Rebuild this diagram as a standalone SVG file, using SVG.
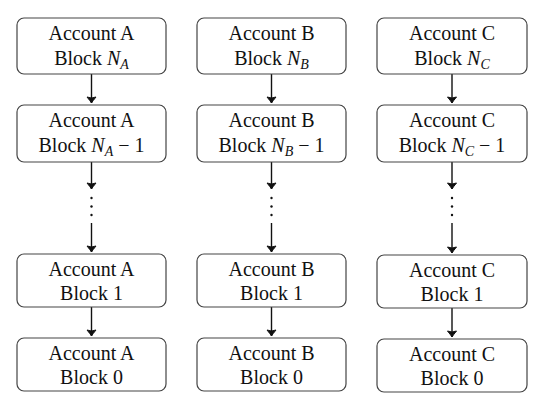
<svg xmlns="http://www.w3.org/2000/svg" width="538" height="405" viewBox="0 0 538 405">
<defs>
<style>
.box{fill:#fff;stroke:#444;stroke-width:1.2}
.c{stroke:#111;stroke-width:1.4;fill:none}
.d{fill:#111}
</style>
<marker id="ah" markerUnits="userSpaceOnUse" markerWidth="12" markerHeight="12" viewBox="-7 -6 8 12" refX="0" refY="0" orient="auto">
<path d="M-6,-4.5 Q-2,-1.2 0,0 Q-2,1.2 -6,4.5 Q-4,0 -6,-4.5 Z" fill="#111" stroke="#111" stroke-width="1" stroke-linejoin="round"/>
</marker>
</defs>
<rect width="538" height="405" fill="#fff"/>
<g id="connectors">
<path class="c" d="M91.5,74 V103" marker-end="url(#ah)"/>
<path class="c" d="M91.5,162 V189" marker-end="url(#ah)"/>
<path class="c" d="M91.5,223 V252" marker-end="url(#ah)"/>
<path class="c" d="M91.5,307 V336" marker-end="url(#ah)"/>
<path class="c" d="M271.5,74 V103" marker-end="url(#ah)"/>
<path class="c" d="M271.5,162 V189" marker-end="url(#ah)"/>
<path class="c" d="M271.5,223 V252" marker-end="url(#ah)"/>
<path class="c" d="M271.5,307 V336" marker-end="url(#ah)"/>
<path class="c" d="M452,74 V103" marker-end="url(#ah)"/>
<path class="c" d="M452,162 V189" marker-end="url(#ah)"/>
<path class="c" d="M452,223 V253" marker-end="url(#ah)"/>
<path class="c" d="M452,308 V337" marker-end="url(#ah)"/>
<circle class="d" cx="91.5" cy="198" r="1.2"/><circle class="d" cx="91.5" cy="206.5" r="1.2"/><circle class="d" cx="91.5" cy="215" r="1.2"/>
<circle class="d" cx="271.5" cy="198" r="1.2"/><circle class="d" cx="271.5" cy="206.5" r="1.2"/><circle class="d" cx="271.5" cy="215" r="1.2"/>
<circle class="d" cx="452" cy="198" r="1.2"/><circle class="d" cx="452" cy="206.5" r="1.2"/><circle class="d" cx="452" cy="215" r="1.2"/>
</g>
<g font-family="Liberation Serif, Times New Roman, Tinos, DejaVu Serif, Noto Serif, serif" font-size="20" fill="#111" text-anchor="middle">
<g id="a1"><rect class="box" x="17" y="18" width="149" height="56" rx="7"/><text x="91.5" y="40">Account A</text><text x="91.5" y="64.5">Block <tspan font-style="italic">N</tspan><tspan font-style="italic" font-size="14" dy="4">A</tspan></text></g>
<g id="a2"><rect class="box" x="17" y="105" width="149" height="57" rx="7"/><text x="91.5" y="127">Account A</text><text x="91.5" y="152">Block <tspan font-style="italic">N</tspan><tspan font-style="italic" font-size="14" dy="4">A</tspan><tspan dy="-4"> − 1</tspan></text></g>
<g id="a3"><rect class="box" x="17" y="254" width="149" height="53" rx="7"/><text x="91.5" y="275.5">Account A</text><text x="91.5" y="299.5">Block 1</text></g>
<g id="a4"><rect class="box" x="17" y="338" width="149" height="53" rx="7"/><text x="91.5" y="360">Account A</text><text x="91.5" y="384">Block 0</text></g>
<g id="b1"><rect class="box" x="197" y="18" width="149" height="56" rx="7"/><text x="271.5" y="40">Account B</text><text x="271.5" y="64.5">Block <tspan font-style="italic">N</tspan><tspan font-style="italic" font-size="14" dy="4">B</tspan></text></g>
<g id="b2"><rect class="box" x="197" y="105" width="149" height="57" rx="7"/><text x="271.5" y="127">Account B</text><text x="271.5" y="152">Block <tspan font-style="italic">N</tspan><tspan font-style="italic" font-size="14" dy="4">B</tspan><tspan dy="-4"> − 1</tspan></text></g>
<g id="b3"><rect class="box" x="197" y="254" width="149" height="53" rx="7"/><text x="271.5" y="275.5">Account B</text><text x="271.5" y="299.5">Block 1</text></g>
<g id="b4"><rect class="box" x="197" y="338" width="149" height="53" rx="7"/><text x="271.5" y="360">Account B</text><text x="271.5" y="384">Block 0</text></g>
<g id="c1"><rect class="box" x="377" y="18" width="150" height="56" rx="7"/><text x="452" y="40">Account C</text><text x="452" y="64.5">Block <tspan font-style="italic">N</tspan><tspan font-style="italic" font-size="14" dy="4">C</tspan></text></g>
<g id="c2"><rect class="box" x="377" y="105" width="150" height="57" rx="7"/><text x="452" y="127">Account C</text><text x="452" y="152">Block <tspan font-style="italic">N</tspan><tspan font-style="italic" font-size="14" dy="4">C</tspan><tspan dy="-4"> − 1</tspan></text></g>
<g id="c3"><rect class="box" x="377" y="255" width="150" height="53" rx="7"/><text x="452" y="276.5">Account C</text><text x="452" y="300.5">Block 1</text></g>
<g id="c4"><rect class="box" x="377" y="339" width="150" height="53" rx="7"/><text x="452" y="361">Account C</text><text x="452" y="385">Block 0</text></g>
</g>
</svg>
